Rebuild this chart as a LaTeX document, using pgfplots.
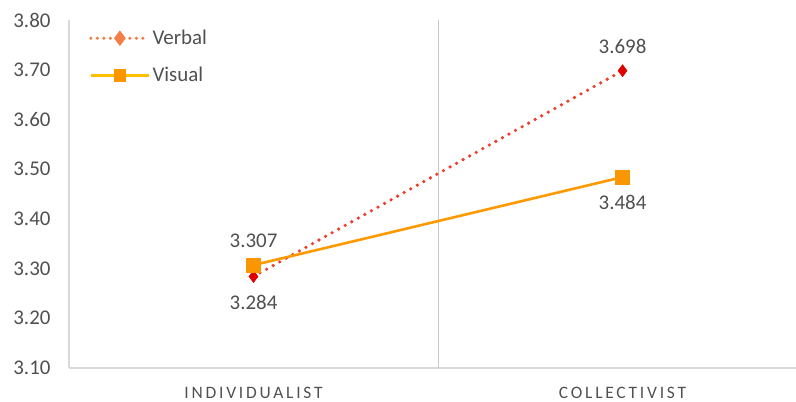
\documentclass[border=0pt]{standalone}
\usepackage{pgfplots}
\pgfplotsset{compat=1.18}
\usepackage{fontspec}
\setmainfont{Carlito}
\newfontfamily\catfont[LetterSpace=16]{Carlito}

\definecolor{txtgray}{RGB}{80,80,80}
\definecolor{axisgray}{RGB}{217,217,217}
\definecolor{sepgray}{RGB}{200,200,200}
\definecolor{verbaldot}{RGB}{240,60,40}
\definecolor{verbalmark}{RGB}{225,0,0}
\definecolor{verballeg}{RGB}{245,125,70}
\definecolor{visualline}{RGB}{255,153,0}
\definecolor{visualmark}{RGB}{250,150,0}
\definecolor{visualleg}{RGB}{255,192,0}

\pgfplotsset{
  labelstyle/.style={forget plot, draw=none, mark=none,
    nodes near coords, point meta=explicit symbolic,
    every node near coord/.append style={font=\fontsize{21}{25}\selectfont, text=txtgray}},
}

\begin{document}
\begin{tikzpicture}
\begin{axis}[
  scale only axis,
  width=727bp, height=348bp,
  xmin=-0.5, xmax=1.47,
  ymin=3.1, ymax=3.8,
  axis x line*=bottom,
  axis y line*=left,
  axis line style={draw=axisgray, line width=1.2bp},
  xtick={0,1},
  xticklabels={INDIVIDUALIST, COLLECTIVIST},
  ytick={3.1,3.2,3.3,3.4,3.5,3.6,3.7,3.8},
  major tick length=0pt,
  extra x ticks={0.5},
  extra x tick labels={},
  extra x tick style={grid=major, major grid style={draw=sepgray, line width=1bp}},
  /pgf/number format/assume math mode=true,
  yticklabel style={/pgf/number format/fixed, /pgf/number format/fixed zerofill,
    /pgf/number format/precision=2, font=\fontsize{21}{25}\selectfont,
    text=txtgray, xshift=-15bp},
  xticklabel style={font=\catfont\fontsize{17.5}{20}\selectfont, text=txtgray, yshift=-16bp},
  legend style={at={(0,1)}, anchor=north west, xshift=17bp, yshift=-6bp,
    draw=none, fill=none, font=\fontsize{21}{25}\selectfont, text=txtgray,
    row sep=17bp},
  legend cell align=left,
  legend image code/.code={
    \draw[mark repeat=2, mark phase=2] plot coordinates {(0bp,0bp) (29bp,0bp) (58bp,0bp)};
  },
]
% Verbal
\addplot[forget plot, verbaldot, line width=3.6bp, line cap=round,
  dash pattern=on 0bp off 7.5bp,
  mark=diamond*, mark size=6bp,
  mark options={solid, fill=verbalmark, draw=verbalmark, line width=0.5bp}]
  coordinates {(0,3.284) (1,3.698)};
% Visual
\addplot[forget plot, visualline, line width=2.6bp,
  mark=square*, mark size=7bp,
  mark options={fill=visualmark, draw=visualmark, line width=0.5bp}]
  coordinates {(0,3.307) (1,3.484)};

% data labels
\addplot[labelstyle, every node near coord/.append style={anchor=south, yshift=14bp}]
  coordinates {(0,3.307)[3.307] (1,3.698)[3.698]};
\addplot[labelstyle, every node near coord/.append style={anchor=north, yshift=-15bp}]
  coordinates {(0,3.284)[3.284] (1,3.484)[3.484]};

\addlegendimage{verballeg, line width=3.4bp, line cap=round, dash pattern=on 0bp off 6.5bp,
  mark=diamond*, mark size=5bp, mark options={solid, fill=verballeg, draw=verballeg}}
\addlegendentry{Verbal}
\addlegendimage{visualleg, line width=2.6bp,
  mark=square*, mark size=5bp, mark options={fill=visualmark, draw=visualmark}}
\addlegendentry{Visual}
\end{axis}
\pgfresetboundingbox
\useasboundingbox (-69bp,-34bp) rectangle (727bp,368bp);
\end{tikzpicture}
\end{document}
